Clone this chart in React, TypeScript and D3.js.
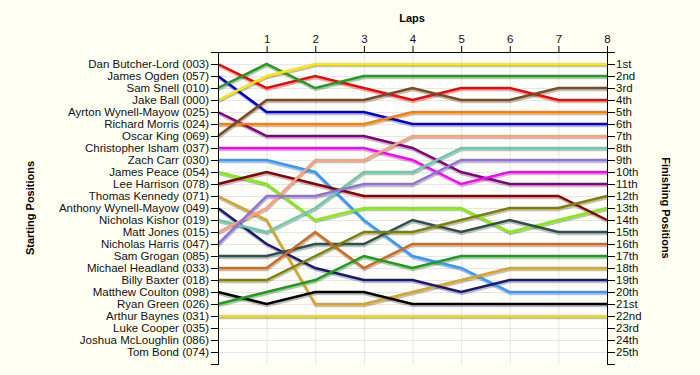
import React from "react";
import * as d3 from "d3";

// pilotos en orden de salida
const drivers = [
  "Dan Butcher-Lord (003)", "James Ogden (057)", "Sam Snell (010)", "Jake Ball (000)",
  "Ayrton Wynell-Mayow (025)", "Richard Morris (024)", "Oscar King (069)", "Christopher Isham (037)",
  "Zach Carr (030)", "James Peace (054)", "Lee Harrison (078)", "Thomas Kennedy (071)",
  "Anthony Wynell-Mayow (049)", "Nicholas Kishor (019)", "Matt Jones (015)", "Nicholas Harris (047)",
  "Sam Grogan (085)", "Michael Headland (033)", "Billy Baxter (018)", "Matthew Coulton (098)",
  "Ryan Green (026)", "Arthur Baynes (031)", "Luke Cooper (035)", "Joshua McLoughlin (086)",
  "Tom Bond (074)",
];

const finishLabels = [
  "1st", "2nd", "3rd", "4th", "5th", "6th", "7th", "8th", "9th", "10th", "11th", "12th", "13th",
  "14th", "15th", "16th", "17th", "18th", "19th", "20th", "21st", "22nd", "23rd", "24th", "25th",
];

const laps = [0, 1, 2, 3, 4, 5, 6, 7, 8];

// posición en cada vuelta (0..8), por piloto
const positions: number[][] = [
  [1, 3, 2, 3, 4, 3, 3, 4, 4],
  [2, 5, 5, 5, 6, 6, 6, 6, 6],
  [3, 1, 3, 2, 2, 2, 2, 2, 2],
  [4, 2, 1, 1, 1, 1, 1, 1, 1],
  [5, 7, 7, 7, 8, 10, 11, 11, 11],
  [6, 6, 6, 6, 5, 5, 5, 5, 5],
  [7, 4, 4, 4, 3, 4, 4, 3, 3],
  [8, 8, 8, 8, 9, 11, 10, 10, 10],
  [9, 9, 10, 14, 17, 18, 20, 20, 20],
  [10, 11, 14, 13, 13, 13, 15, 14, 13],
  [11, 10, 11, 12, 12, 12, 12, 12, 14],
  [12, 14, 21, 21, 20, 19, 18, 18, 18],
  [13, 16, 18, 19, 19, 20, 19, 19, 19],
  [14, 15, 13, 10, 10, 8, 8, 8, 8],
  [15, 13, 9, 9, 7, 7, 7, 7, 7],
  [16, 12, 12, 11, 11, 9, 9, 9, 9],
  [17, 17, 16, 16, 14, 15, 14, 15, 15],
  [18, 18, 15, 18, 16, 16, 16, 16, 16],
  [19, 19, 17, 15, 15, 14, 13, 13, 12],
  [20, 21, 20, 20, 21, 21, 21, 21, 21],
  [21, 20, 19, 17, 18, 17, 17, 17, 17],
  [22, 22, 22, 22, 22, 22, 22, 22, 22],
];

const colors = [
  "#ff0000", "#0000cc", "#1e9e1e", "#ffe800", "#800080", "#ff8000", "#7b4a1e", "#ff00ff",
  "#3399ff", "#80f000", "#8b0000", "#daa520", "#191970", "#66cdaa", "#ffa07a", "#9370db",
  "#2f4f4f", "#d2691e", "#808000", "#000000", "#18a018", "#f0d820",
];

export default function App() {
  const W = 700, H = 375;
  const x = d3.scaleLinear().domain([0, 8]).range([218, 607]);
  const y = d3.scaleLinear().domain([0, 26]).range([52, 364]);
  const line = d3.line<number>().x((_, i) => x(laps[i])).y(d => y(d));
  const ranks = d3.range(1, 26);
  const font = "Liberation Sans, Arial, sans-serif";

  return (
    <div style={{ position: "absolute", left: 0, top: 0 }}>
      <svg width={W} height={H} style={{ display: "block", background: "#fffff2" }} fontFamily={font}>
        <rect x={x(0)} y={y(0)} width={x(8) - x(0)} height={y(26) - y(0)} fill="#fffffb" />
        {/* rejilla */}
        <g stroke="#e6e6e6" strokeWidth={1}>
          {ranks.map(r => <line key={r} x1={x(0)} x2={x(8)} y1={y(r) + 0.5} y2={y(r) + 0.5} />)}
          {laps.slice(1, 8).map(l => <line key={l} x1={x(l) + 0.5} x2={x(l) + 0.5} y1={y(0)} y2={y(26)} />)}
        </g>

        {/* sombras */}
        <g fill="none" stroke="#000" strokeOpacity={0.25} strokeWidth={2.5} transform="translate(0.5,2)">
          {positions.map((p, i) => <path key={i} d={line(p) ?? ""} />)}
        </g>
        <g fill="none" strokeWidth={2.5}>
          {positions.map((p, i) => <path key={i} d={line(p) ?? ""} stroke={colors[i]} />)}
        </g>

        {/* ejes */}
        <g stroke="#000" strokeWidth={1}>
          <line x1={x(0) + 0.5} x2={x(0) + 0.5} y1={y(0)} y2={y(26) + 1} />
          <line x1={x(8) + 0.5} x2={x(8) + 0.5} y1={y(0)} y2={y(26) + 1} />
          <line x1={x(0)} x2={x(8) + 1} y1={y(0) + 0.5} y2={y(0) + 0.5} />
          {[0, ...ranks, 26].map(r => (
            <g key={r}>
              <line x1={x(0) - 7} x2={x(0)} y1={y(r) + 0.5} y2={y(r) + 0.5} />
              <line x1={x(8) + 1} x2={x(8) + 8} y1={y(r) + 0.5} y2={y(r) + 0.5} />
            </g>
          ))}
          {laps.slice(1).map(l => <line key={l} x1={x(l) + 0.5} x2={x(l) + 0.5} y1={y(0) - 6} y2={y(0)} />)}
        </g>

        <g fontSize={11.5} fill="#111">
          {drivers.map((d, i) => (
            <text key={d} x={x(0) - 9} y={y(i + 1)} dy="0.35em" textAnchor="end">{d}</text>
          ))}
          {finishLabels.map((d, i) => (
            <text key={d} x={x(8) + 9} y={y(i + 1)} dy="0.35em">{d}</text>
          ))}
          {laps.slice(1).map(l => (
            <text key={l} x={x(l) + 0.5} y={y(0) - 9} textAnchor="middle">{l}</text>
          ))}
        </g>

        <g fontSize={11} fontWeight="bold" fill="#000" textAnchor="middle">
          <text x={412} y={22}>Laps</text>
          <text transform="translate(34,208) rotate(-90)">Starting Positions</text>
          <text transform="translate(662,208) rotate(90)">Finishing Positions</text>
        </g>
      </svg>
    </div>
  );
}
